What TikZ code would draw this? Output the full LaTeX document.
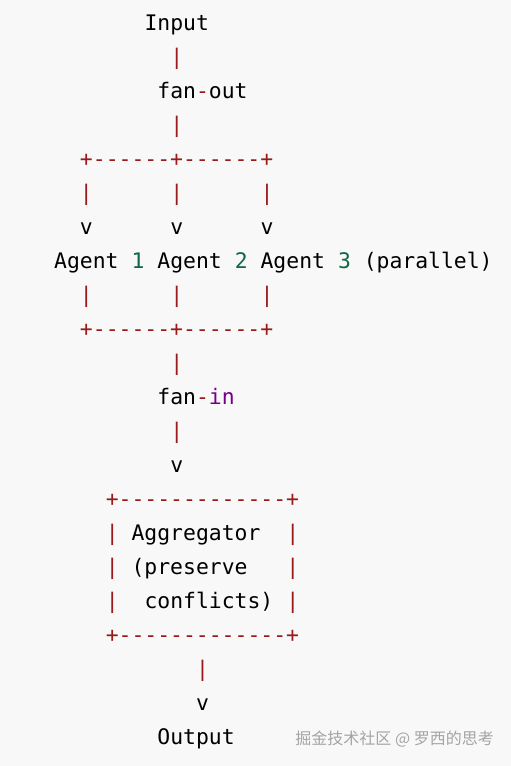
\documentclass[tikz,border=0pt]{standalone}
\usepackage{fontspec}
\setmonofont{DejaVu Sans Mono}
\newfontfamily\cjkfont{Noto Sans CJK SC}
\definecolor{codebg}{HTML}{F8F8F8}
\definecolor{oprd}{HTML}{981A1A}
\definecolor{numgr}{HTML}{116644}
\definecolor{kwpu}{HTML}{770088}
\definecolor{markgr}{HTML}{A4A4A4}
\begin{document}
\begin{tikzpicture}[x=12.9pt,y=-34pt,
        every node/.style={inner sep=0pt,anchor=base west,
            font=\ttfamily\fontsize{21.4}{26}\selectfont},
        op/.style={text=oprd},
        num/.style={text=numgr}]
        \path[fill=codebg,use as bounding box] (-54pt,30.5pt) rectangle (457pt,-735.5pt);
        % input and fan-out
        \node (in) at (7,0) {Input};
        \node[op] (p1) at (9,1) {|};
        \node (fo) at (8,2) {fan\textcolor{oprd}{-}out};
        \node[op] (p2) at (9,3) {|};
        \node[op] (top) at (2,4) {+------+------+};
        \node[op] (pa1) at (2,5) {|};
        \node[op] (pa2) at (9,5) {|};
        \node[op] (pa3) at (16,5) {|};
        \node (va1) at (2,6) {v};
        \node (va2) at (9,6) {v};
        \node (va3) at (16,6) {v};
        % agents
        \node (a1) at (0,7) {Agent};
        \node[num] (n1) at (6,7) {1};
        \node (a2) at (8,7) {Agent};
        \node[num] (n2) at (14,7) {2};
        \node (a3) at (16,7) {Agent};
        \node[num] (n3) at (22,7) {3};
        \node (par) at (24,7) {(parallel)};
        \node[op] (pb1) at (2,8) {|};
        \node[op] (pb2) at (9,8) {|};
        \node[op] (pb3) at (16,8) {|};
        \node[op] (bot) at (2,9) {+------+------+};
        % fan-in
        \node[op] (p3) at (9,10) {|};
        \node (fi) at (8,11) {fan\textcolor{oprd}{-}\textcolor{kwpu}{in}};
        \node[op] (p4) at (9,12) {|};
        \node (v1) at (9,13) {v};
        % aggregator box
        \node[op] (btop) at (4,14) {+-------------+};
        \node[op] (bl1) at (4,15) {|};
        \node (agg) at (6,15) {Aggregator};
        \node[op] (br1) at (18,15) {|};
        \node[op] (bl2) at (4,16) {|};
        \node (pres) at (6,16) {(preserve};
        \node[op] (br2) at (18,16) {|};
        \node[op] (bl3) at (4,17) {|};
        \node (conf) at (7,17) {conflicts)};
        \node[op] (br3) at (18,17) {|};
        \node[op] (bbot) at (4,18) {+-------------+};
        % output
        \node[op] (p5) at (11,19) {|};
        \node (v2) at (11,20) {v};
        \node (out) at (8,21) {Output};
        \node[anchor=base east,text=markgr,font=\cjkfont\fontsize{16}{19}\selectfont]
            (mark) at (440pt,-713.5pt) {掘金技术社区 @ 罗西的思考};
\end{tikzpicture}
\end{document}
